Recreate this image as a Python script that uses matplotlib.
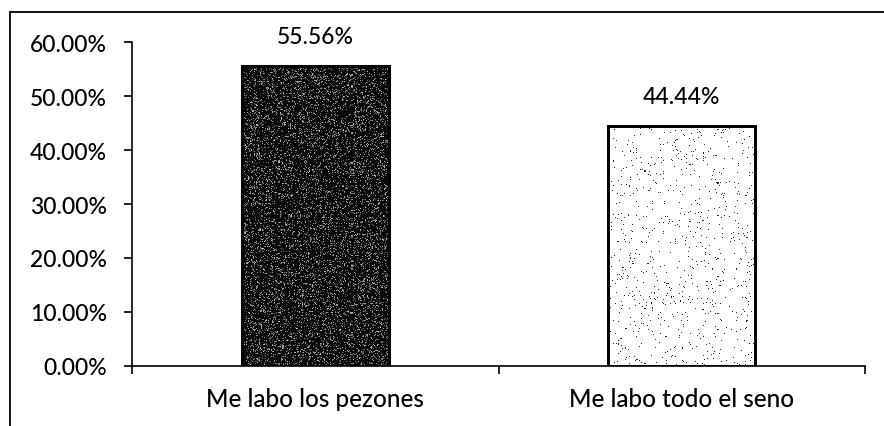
import numpy as np
import matplotlib
matplotlib.use("Agg")
import matplotlib.pyplot as plt
from matplotlib.lines import Line2D
from matplotlib.ticker import FuncFormatter

categories = ["Me labo los pezones", "Me labo todo el seno"]
values = [55.56, 44.44]
value_labels = ["55.56%", "44.44%"]
yticks = [0, 10, 20, 30, 40, 50, 60]

plt.rcParams['font.family'] = ['Lato', 'DejaVu Sans']

W, H = 884, 427
fig = plt.figure(figsize=(W / 100, H / 100), dpi=100)
ax = fig.add_axes([132 / W, 1 - 367 / H, (865 - 132) / W, (367 - 43) / H])

x = np.arange(len(categories))
bars = ax.bar(x, values, width=0.4, color=["#0a0a0a", "#ffffff"],
              edgecolor="black", linewidth=2.0, zorder=2)

# speckled textures clipped to bars
rng = np.random.default_rng(3)
for i, b in enumerate(bars):
    if i == 0:
        tex = (rng.random((300, 145)) < 0.18).astype(float) * rng.uniform(0.4, 1.0, (300, 145))
        img = np.zeros((300, 145, 4))
        img[..., :3] = 1.0
        img[..., 3] = tex * 0.75
    else:
        tex = (rng.random((240, 145)) < 0.025).astype(float)
        img = np.zeros((240, 145, 4))
        img[..., 3] = tex * 0.85
    bx, by = b.get_x(), b.get_y()
    bw, bh = b.get_width(), b.get_height()
    im = ax.imshow(img, extent=[bx, bx + bw, by, by + bh], aspect='auto',
                   interpolation='nearest', zorder=2.5)
    im.set_clip_path(b)
    ax.bar(b.get_x() + bw / 2, bh, width=bw, fill=False, edgecolor="black",
           linewidth=2.0, zorder=3)

for xi, v, lab in zip(x, values, value_labels):
    ax.annotate(lab, (xi, v), xytext=(0, 14), textcoords="offset points",
                ha="center", va="bottom", fontsize=16.5, fontweight="medium",
                color="black")

ax.set_xlim(-0.5, 1.5)
ax.set_ylim(0, 60)
ax.set_yticks(yticks)
ax.yaxis.set_major_formatter(FuncFormatter(lambda v, p: f"{v:.2f}%"))
for t in ax.get_yticklabels():
    t.set_fontweight("medium")
ax.set_xticks([-0.5, 0.5, 1.5])
ax.set_xticklabels([])
ax.set_xticks(x, minor=True)
ax.set_xticklabels(categories, minor=True, fontweight="medium")
ax.tick_params(axis='x', which='minor', length=0, pad=15, labelsize=17.5)
ax.tick_params(axis='x', which='major', length=6, width=1.2, direction='out')
ax.tick_params(axis='y', length=6, width=1.2, pad=12, labelsize=16.5)

for s in ["top", "right"]:
    ax.spines[s].set_visible(False)
ax.spines["left"].set_linewidth(1.2)
ax.spines["bottom"].set_linewidth(1.2)

# outer frame (left and top edges visible)
fig.add_artist(Line2D([10 / W, 10 / W], [0, 1 - 13 / H], color="black", lw=1.3,
                      transform=fig.transFigure))
fig.add_artist(Line2D([10 / W, 1], [1 - 13 / H, 1 - 13 / H], color="black", lw=1.3,
                      transform=fig.transFigure))

fig.savefig("out.png", dpi=100)
